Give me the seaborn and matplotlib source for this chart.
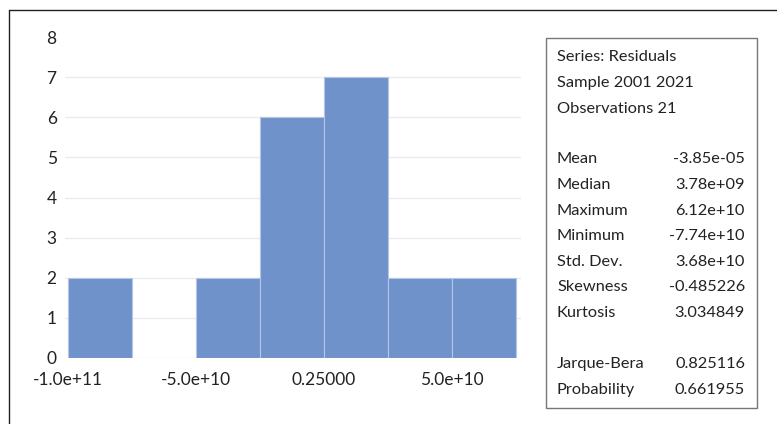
import numpy as np
import pandas as pd
import matplotlib
matplotlib.use("Agg")
import matplotlib.pyplot as plt
import seaborn as sns
from matplotlib.lines import Line2D
from matplotlib.patches import Rectangle

# ---- data ----
bin_edges = [-1.0e11, -7.5e10, -5.0e10, -2.5e10, 0.0, 2.5e10, 5.0e10, 7.5e10]
counts = [2, 0, 2, 6, 7, 2, 2]
xtick_pos = [-1.0e11, -5.0e10, 0.0, 5.0e10]
xtick_labels = ["-1.0e+11", "-5.0e+10", "0.25000", "5.0e+10"]
yticks = [0, 1, 2, 3, 4, 5, 6, 7, 8]
stat_header = ["Series: Residuals", "Sample 2001 2021", "Observations 21"]
stat_names = ["Mean", "Median", "Maximum", "Minimum", "Std. Dev.", "Skewness", "Kurtosis"]
stat_values = ["-3.85e-05", "3.78e+09", "6.12e+10", "-7.74e+10", "3.68e+10", "-0.485226", "3.034849"]
test_names = ["Jarque-Bera", "Probability"]
test_values = ["0.825116", "0.661955"]

sns.set_style("white")
plt.rcParams['font.family'] = ['Lato', 'DejaVu Sans']

W, H = 777, 424
fig = plt.figure(figsize=(W / 100, H / 100), dpi=100)

# axes placement in pixels
px_per_bin = 64
data_per_px = 2.5e10 / px_per_bin
ax_left_px, ax_right_px = 65, 521
ax_bottom_px, ax_top_px = 358, 37
ax = fig.add_axes([ax_left_px / W, (H - ax_bottom_px) / H,
                   (ax_right_px - ax_left_px) / W, (ax_bottom_px - ax_top_px) / H])

centers = [(a + b) / 2 for a, b in zip(bin_edges[:-1], bin_edges[1:])]
df = pd.DataFrame({"x": centers, "w": counts})
sns.histplot(data=df, x="x", weights="w", bins=bin_edges, ax=ax,
             color="#7092CB", alpha=1.0, edgecolor="#B4C6E4", linewidth=0.8, zorder=3)

ax.set_xlim(bin_edges[0] - 3 * data_per_px, bin_edges[-1] + 5 * data_per_px)
ax.set_ylim(0, 8)
ax.set_yticks(yticks)
ax.set_yticklabels([str(v) for v in yticks])
ax.set_xticks(xtick_pos)
ax.set_xticklabels(xtick_labels)
for v in yticks[1:-1]:
    ax.axhline(v, color="#EBEBEB", linewidth=1.0, zorder=1)
ax.set_xlabel("")
ax.set_ylabel("")
for s in ax.spines.values():
    s.set_visible(False)
ax.tick_params(axis="y", length=0, pad=6, labelsize=12.5, colors="#222222")
ax.tick_params(axis="x", length=0, pad=10, labelsize=12.5, colors="#222222")

# outer frame (top and left)
fig.add_artist(Line2D([9 / W, 1.0], [1 - 10 / H, 1 - 10 / H], color="#222222", linewidth=1.0))
fig.add_artist(Line2D([9 / W, 9 / W], [0, 1 - 10 / H], color="#222222", linewidth=1.0))

# stats box
bx0, bx1, by0, by1 = 546, 757, 38, 408
fig.add_artist(Rectangle((bx0 / W, 1 - by1 / H), (bx1 - bx0) / W, (by1 - by0) / H,
                         fill=False, edgecolor="#777777", linewidth=1.0))
fs = 11.8
lx, rx = 557, 745
header_y = [57, 83, 109]
stat_y = [159, 185, 211, 236, 262, 287, 313]
test_y = [364, 390]
for t, y in zip(stat_header, header_y):
    fig.text(lx / W, 1 - y / H, t, ha="left", va="center", fontsize=fs, color="#222222")
for n, v, y in zip(stat_names, stat_values, stat_y):
    fig.text(lx / W, 1 - y / H, n, ha="left", va="center", fontsize=fs, color="#222222")
    fig.text(rx / W, 1 - y / H, v, ha="right", va="center", fontsize=fs, color="#222222")
for n, v, y in zip(test_names, test_values, test_y):
    fig.text(lx / W, 1 - y / H, n, ha="left", va="center", fontsize=fs, color="#222222")
    fig.text(rx / W, 1 - y / H, v, ha="right", va="center", fontsize=fs, color="#222222")

fig.savefig("out.png", dpi=100)
